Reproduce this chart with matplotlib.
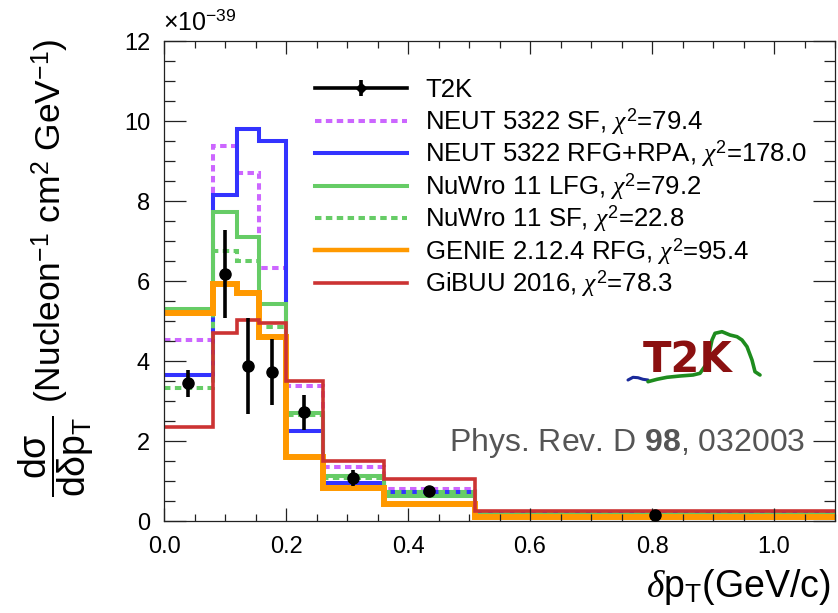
import numpy as np
import matplotlib
matplotlib.use('Agg')
import matplotlib.pyplot as plt
from matplotlib.lines import Line2D
from matplotlib.ticker import MultipleLocator, FormatStrFormatter

plt.rcParams['font.family'] = ['Liberation Sans', 'DejaVu Sans']
plt.rcParams['mathtext.fontset'] = 'custom'
plt.rcParams['mathtext.rm'] = 'Liberation Sans'
plt.rcParams['mathtext.it'] = 'Liberation Serif:italic'
plt.rcParams['mathtext.bf'] = 'Liberation Sans:bold'

# dpT bin edges (GeV/c); cross sections in units of 1e-39 cm^2 / nucleon / GeV
edges = [0.0, 0.08, 0.12, 0.155, 0.2, 0.26, 0.36, 0.51, 1.1]

t2k = [3.44, 6.18, 3.87, 3.72, 2.72, 1.08, 0.74, 0.16]
t2k_err = [0.34, 1.10, 1.20, 0.83, 0.44, 0.20, 0.07, 0.03]

neut_sf = [4.52, 9.37, 8.70, 6.32, 3.37, 1.36, 0.79, 0.20]
neut_rfg = [3.66, 8.14, 9.79, 9.49, 2.26, 0.96, 0.73, 0.19]
nuwro_lfg = [5.30, 7.73, 7.10, 5.42, 2.69, 1.12, 0.62, 0.16]
nuwro_sf = [3.32, 6.74, 6.49, 4.85, 2.64, 1.08, 0.72, 0.18]
genie = [5.20, 5.92, 5.69, 4.59, 1.61, 0.83, 0.43, 0.10]
gibuu = [2.36, 4.71, 5.02, 4.95, 3.51, 1.51, 1.05, 0.24]

model_names = ['NEUT 5322 SF', 'NEUT 5322 RFG+RPA', 'NuWro 11 LFG',
               'NuWro 11 SF', 'GENIE 2.12.4 RFG', 'GiBUU 2016']
chi2 = ['79.4', '178.0', '79.2', '22.8', '95.4', '78.3']
model_values = [neut_sf, neut_rfg, nuwro_lfg, nuwro_sf, genie, gibuu]

colors = ['#cc66ff', '#3333ff', '#66cc66', '#66cc66', '#ff9900', '#cc3333']
dotted = (0, (1.6, 1.1))
styles = [dotted, '-', '-', dotted, '-', '-']
widths = [2.9, 2.9, 2.9, 2.9, 4.3, 2.6]

W, H = 838, 613


def px(x, y):
    # pixel position -> figure fraction
    return x / W, 1 - y / H


fig = plt.figure(figsize=(W / 100, H / 100), dpi=100)
ax = fig.add_axes([164 / W, 1 - 521 / H, (835 - 164) / W, (521 - 41) / H])

for vals, col, ls, lw in zip(model_values, colors, styles, widths):
    ax.stairs(vals, edges, baseline=None, color=col, linestyle=ls,
              linewidth=lw)

centers = 0.5 * (np.array(edges[:-1]) + np.array(edges[1:]))
ax.errorbar(centers, t2k, yerr=t2k_err, fmt='o', color='k', ms=8,
            elinewidth=2.6, capsize=0, zorder=10)

# legend, one row every 32.5 px
row0, step = 88, 32.5
x0, x1, xt = 315, 407, 425
tf = fig.transFigure


def legend_line(y, **kw):
    (a, b), (c, d) = px(x0, y), px(x1, y)
    fig.add_artist(Line2D([a, c], [b, d], transform=tf, **kw))


def legend_text(y, s):
    fig.text(*px(xt, y + 9), s, fontsize=18.5, ha='left', va='baseline')


legend_line(row0, color='k', lw=2.6)
mx, my = px((x0 + x1) / 2, row0)
fig.add_artist(Line2D([mx], [my], transform=tf, color='k', marker='D',
                      ms=5))
fig.add_artist(Line2D([mx], [my], transform=tf, color='k', marker='|',
                      ms=11, mew=2.6))
legend_text(row0, 'T2K')
for i, (name, c2, col, ls, lw) in enumerate(zip(model_names, chi2, colors,
                                                styles, widths)):
    y = row0 + step * (i + 1)
    legend_line(y, color=col, linestyle=ls, lw=min(lw, 3.2))
    legend_text(y, name + r', $\chi^{2}$=' + c2)

ax.set_xlim(0, 1.1)
ax.set_ylim(0, 12)
ax.xaxis.set_major_locator(MultipleLocator(0.2))
ax.xaxis.set_minor_locator(MultipleLocator(0.05))
ax.xaxis.set_major_formatter(FormatStrFormatter('%.1f'))
ax.yaxis.set_major_locator(MultipleLocator(2))
ax.yaxis.set_minor_locator(MultipleLocator(0.5))

ax.tick_params(which='both', direction='in', top=True, right=True,
               labelsize=17, width=0.9, color='#222222')
ax.tick_params(axis='x', which='major', length=9.5, pad=11)
ax.tick_params(axis='x', which='minor', length=5)
ax.tick_params(axis='y', which='major', length=15.5, pad=10)
ax.tick_params(axis='y', which='minor', length=8)
for sp in ax.spines.values():
    sp.set_linewidth(0.9)
    sp.set_color('#222222')

# axis titles
fig.text(*px(830, 597), r'$\delta\mathrm{p}_{\mathrm{T}}$(GeV/c)',
         fontsize=27, ha='right', va='baseline')
fig.text(*px(56, 456),
         r'$\dfrac{\mathrm{d\sigma}}{\mathrm{d\delta p}_{\mathrm{T}}}$',
         fontsize=27, rotation=90, ha='center', va='center')
fig.text(*px(51, 221), r'(Nucleon$^{-1}$ cm$^{2}$ GeV$^{-1}$)',
         fontsize=25.5, rotation=90, ha='center', va='center')
fig.text(*px(163, 30), r'$\times$10$^{-39}$', fontsize=18, ha='left',
         va='baseline')

fig.text(*px(805, 443), r'Phys. Rev. D $\mathbf{98}$, 032003', fontsize=23,
         color='#555555', ha='right', va='center')

# T2K logo
logo = fig.add_axes([620 / W, 1 - 392 / H, 150 / W, 67 / H])
logo.set_xlim(620, 770)
logo.set_ylim(392, 325)
logo.axis('off')
tail_x = [628, 633, 638, 643, 648]
tail_y = [380, 377.3, 377.7, 379.3, 380]
wave_x = [648, 657, 667, 680, 693, 700, 707, 712, 715, 722, 730, 737, 742,
          747, 752, 755, 760]
wave_y = [381.7, 379.3, 377.3, 376, 375, 373.3, 363.3, 340, 333.3, 331.7,
          335, 336.7, 340, 346.7, 360, 371.7, 375]
logo.plot(tail_x, tail_y, color='#1a2a9a', lw=2.2, solid_capstyle='round')
logo.plot(wave_x, wave_y, color='#1e8c1e', lw=2.6, solid_capstyle='round')
logo.text(688, 360, 'T2K', fontsize=30, fontweight='bold',
          family='DejaVu Sans', color='#8b1010', ha='center', va='center')

fig.savefig('out.png', dpi=100)
